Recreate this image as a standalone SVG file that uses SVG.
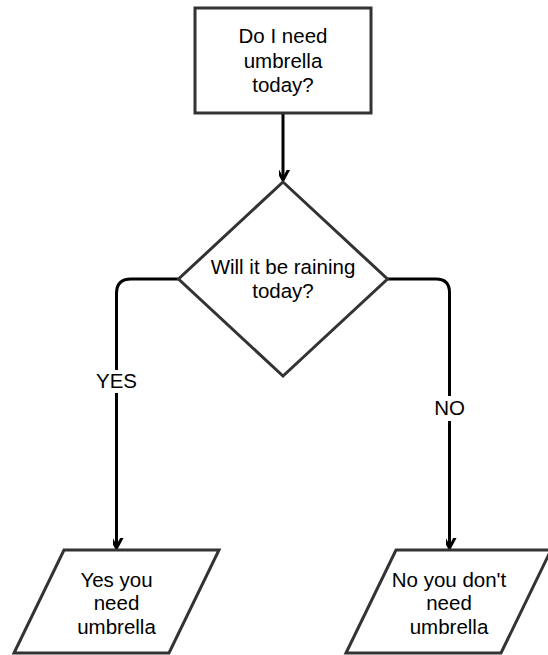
<svg xmlns="http://www.w3.org/2000/svg" width="548" height="655" viewBox="0 0 548 655">
<defs>
<style>
.shape{fill:#fff;stroke:#333;stroke-width:3}
.conn{fill:none;stroke:#000;stroke-width:3}
.t{font-family:"Liberation Sans",Arial,Helvetica,sans-serif;font-size:20.5px;fill:#000;text-anchor:middle}
.lbl{fill:#fff}
</style>
<marker id="arr" markerUnits="userSpaceOnUse" viewBox="-10 -16 20 20" refX="0" refY="0" markerWidth="20" markerHeight="20" orient="auto-start-reverse">
<path d="M-7.5,-14 L0,0 L7.5,-14" fill="none" stroke="#000" stroke-width="3" transform="rotate(-90)"/>
</marker>
</defs>
<rect width="548" height="655" fill="#fff"/>
<g id="connectors">
<path class="conn" d="M283,113 V180" marker-end="url(#arr)"/>
<path class="conn" d="M178.5,279 H131 Q116.5,279 116.5,293.5 V548" marker-end="url(#arr)"/>
<path class="conn" d="M387.5,279 H436 Q449.5,279 449.5,292.5 V548" marker-end="url(#arr)"/>
<g id="label-yes">
<rect class="lbl" x="94" y="370" width="45" height="23"/>
<text class="t" x="116.5" y="387.5">YES</text>
</g>
<g id="label-no">
<rect class="lbl" x="433" y="396" width="33" height="25"/>
<text class="t" x="449.5" y="415">NO</text>
</g>
</g>
<g id="start">
<rect class="shape" x="195" y="8" width="176" height="105"/>
<text class="t" x="283" y="43">Do I need</text>
<text class="t" x="283" y="67.5">umbrella</text>
<text class="t" x="283" y="92">today?</text>
</g>
<g id="decision">
<polygon class="shape" points="283,182 387.5,279 283,376 178.5,279"/>
<text class="t" x="283" y="274">Will it be raining</text>
<text class="t" x="283" y="298">today?</text>
</g>
<g id="yes-output">
<polygon class="shape" points="64,550 219,550 169,653 14,653"/>
<text class="t" x="116.5" y="586.5">Yes you</text>
<text class="t" x="116.5" y="610">need</text>
<text class="t" x="116.5" y="634">umbrella</text>
</g>
<g id="no-output">
<polygon class="shape" points="396,550 551,550 501,653 346,653"/>
<text class="t" x="449" y="586.5">No you don't</text>
<text class="t" x="449" y="610">need</text>
<text class="t" x="449" y="634">umbrella</text>
</g>
</svg>
